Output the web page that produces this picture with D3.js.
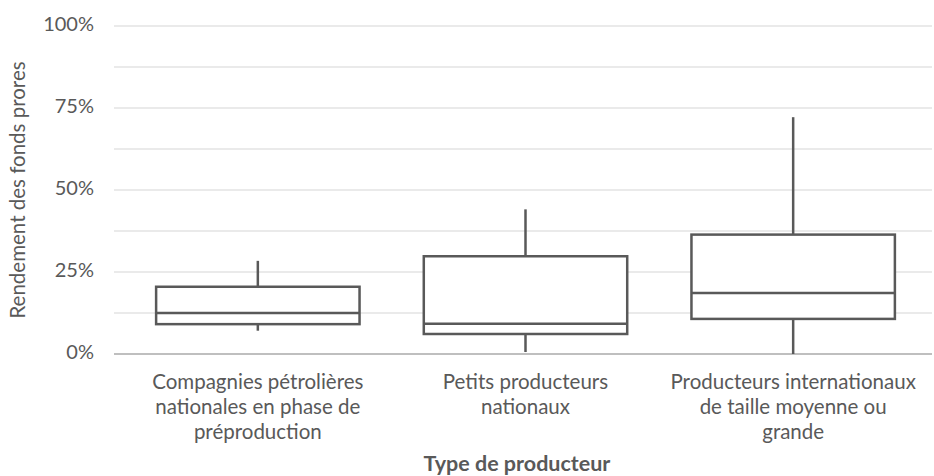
<!DOCTYPE html>
<html>
<head>
<meta charset="utf-8">
<script src="https://cdn.jsdelivr.net/npm/d3@7"></script>
<style>
  body { margin: 0; background: #fff; }
  svg { display: block; font-family: Lato, sans-serif; }
</style>
</head>
<body>
<svg id="chart" width="934" height="476"></svg>
<script>
const categories = [
  ["Compagnies pétrolières", "nationales en phase de", "préproduction"],
  ["Petits producteurs", "nationaux"],
  ["Producteurs internationaux", "de taille moyenne ou", "grande"]
];
const whiskerLow  = [7.1, 0.6, 0.0];
const q1          = [9.1, 6.1, 10.7];
const median      = [12.5, 9.2, 18.6];
const q3          = [20.5, 29.8, 36.4];
const whiskerHigh = [28.4, 44.1, 72.2];
const yTicks = [0, 25, 50, 75, 100];
const yGrid = [12.5, 25, 37.5, 50, 62.5, 75, 87.5, 100];
const yLabel = "Rendement des fonds prores";
const xLabel = "Type de producteur";

const svg = d3.select("#chart");
const grey = "#595959";
const y = d3.scaleLinear().domain([0, 100]).range([354, 26]);
const x = d3.scaleBand().domain(d3.range(categories.length)).range([124, 927]).paddingInner(0.24).paddingOuter(0.12);

// gridlines
svg.append("g").selectAll("line").data(yGrid).join("line")
  .attr("x1", 114).attr("x2", 932)
  .attr("y1", d => y(d)).attr("y2", d => y(d))
  .attr("stroke", "#e3e3e3").attr("stroke-width", 1.3);

// baseline
svg.append("line").attr("x1", 114).attr("x2", 932)
  .attr("y1", y(0)).attr("y2", y(0))
  .attr("stroke", "#bfbfbf").attr("stroke-width", 2);

// y tick labels
const yAxis = d3.axisLeft(y).tickValues(yTicks).tickSize(0).tickPadding(0).tickFormat(d => d + "%");
const ya = svg.append("g").attr("transform", "translate(94,-2)").call(yAxis);
ya.select(".domain").remove();
ya.selectAll("text").attr("font-size", 20).attr("fill", grey).attr("font-family", "Lato, sans-serif");

// boxes
const bw = x.bandwidth();
const g = svg.append("g");
categories.forEach((c, i) => {
  const cx = x(i) + bw / 2;
  const col = "#595959";
  g.append("line").attr("x1", cx).attr("x2", cx).attr("y1", y(whiskerHigh[i])).attr("y2", y(q3[i]))
    .attr("stroke", col).attr("stroke-width", 2.5);
  g.append("line").attr("x1", cx).attr("x2", cx).attr("y1", y(q1[i])).attr("y2", y(whiskerLow[i]))
    .attr("stroke", col).attr("stroke-width", 2.5);
  g.append("rect").attr("x", x(i)).attr("width", bw)
    .attr("y", y(q3[i])).attr("height", y(q1[i]) - y(q3[i]))
    .attr("fill", "#fff").attr("stroke", col).attr("stroke-width", 2.5);
  g.append("line").attr("x1", x(i)).attr("x2", x(i) + bw).attr("y1", y(median[i])).attr("y2", y(median[i]))
    .attr("stroke", col).attr("stroke-width", 2.5);
});

// category labels
categories.forEach((lines, i) => {
  const t = svg.append("text").attr("text-anchor", "middle")
    .attr("font-size", 20.5).attr("fill", grey);
  lines.forEach((l, j) => {
    t.append("tspan").attr("x", x(i) + bw / 2).attr("y", 389 + j * 25).text(l);
  });
});

// axis titles
svg.append("text").attr("transform", "translate(25,190) rotate(-90)")
  .attr("text-anchor", "middle").attr("font-size", 20.5).attr("fill", grey).text(yLabel);
svg.append("text").attr("x", 517).attr("y", 471).attr("text-anchor", "middle")
  .attr("font-size", 21.5).attr("font-weight", "bold").attr("fill", grey).text(xLabel);
</script>
</body>
</html>
